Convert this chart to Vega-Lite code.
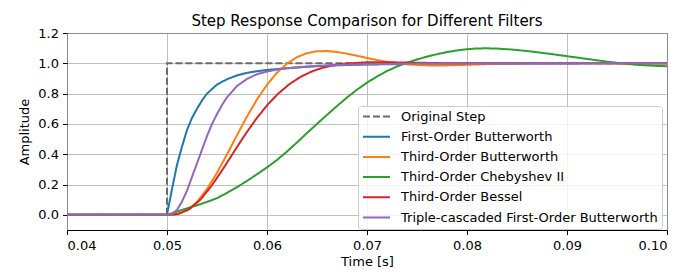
{
  "$schema": "https://vega.github.io/schema/vega-lite/v6.json",
  "width": 600,
  "height": 197,
  "autosize": {"type": "none"},
  "padding": {"left": 67, "top": 33, "right": 31, "bottom": 47},
  "background": "white",
  "title": {"text": "Step Response Comparison for Different Filters", "fontSize": 15, "font": "DejaVu Sans", "fontWeight": "normal", "color": "black", "anchor": "middle", "baseline": "alphabetic", "offset": 7, "dy": 21},
  "config": {
    "view": {"stroke": "black", "strokeWidth": 1},
    "axis": {"domain": false, "gridColor": "#b0b0b0", "gridOpacity": 0.8, "gridWidth": 1, "tickColor": "black", "tickSize": 4.5, "tickWidth": 1, "labelFont": "DejaVu Sans", "labelFontSize": 13, "labelColor": "black", "titleFont": "DejaVu Sans", "titleFontSize": 13, "titleFontWeight": "normal", "titleColor": "black"},
    "legend": {"orient": "none", "legendX": 291, "legendY": 73, "fillColor": "rgba(255,255,255,0.8)", "strokeColor": "#cccccc", "cornerRadius": 3, "padding": 4, "rowPadding": 6.2, "clipHeight": 13, "labelFont": "DejaVu Sans", "labelFontSize": 13, "labelColor": "black", "labelLimit": 400, "labelOffset": 10, "symbolType": "stroke", "symbolStrokeWidth": 2, "symbolSize": 729}
  },
  "data": {"values": [
    {"series": "Original Step", "t": 0.04, "y": 0},
    {"series": "Original Step", "t": 0.05, "y": 0},
    {"series": "Original Step", "t": 0.05, "y": 1},
    {"series": "Original Step", "t": 0.1, "y": 1},

    {"series": "First-Order Butterworth", "t": 0.04, "y": 0},
    {"series": "First-Order Butterworth", "t": 0.05, "y": 0},
    {"series": "First-Order Butterworth", "t": 0.0505, "y": 0.17},
    {"series": "First-Order Butterworth", "t": 0.051, "y": 0.33},
    {"series": "First-Order Butterworth", "t": 0.0515, "y": 0.45},
    {"series": "First-Order Butterworth", "t": 0.052, "y": 0.56},
    {"series": "First-Order Butterworth", "t": 0.0525, "y": 0.64},
    {"series": "First-Order Butterworth", "t": 0.053, "y": 0.70},
    {"series": "First-Order Butterworth", "t": 0.0535, "y": 0.755},
    {"series": "First-Order Butterworth", "t": 0.054, "y": 0.80},
    {"series": "First-Order Butterworth", "t": 0.055, "y": 0.86},
    {"series": "First-Order Butterworth", "t": 0.056, "y": 0.895},
    {"series": "First-Order Butterworth", "t": 0.057, "y": 0.92},
    {"series": "First-Order Butterworth", "t": 0.058, "y": 0.937},
    {"series": "First-Order Butterworth", "t": 0.059, "y": 0.948},
    {"series": "First-Order Butterworth", "t": 0.06, "y": 0.956},
    {"series": "First-Order Butterworth", "t": 0.062, "y": 0.968},
    {"series": "First-Order Butterworth", "t": 0.064, "y": 0.977},
    {"series": "First-Order Butterworth", "t": 0.066, "y": 0.984},
    {"series": "First-Order Butterworth", "t": 0.068, "y": 0.989},
    {"series": "First-Order Butterworth", "t": 0.07, "y": 0.992},
    {"series": "First-Order Butterworth", "t": 0.075, "y": 0.996},
    {"series": "First-Order Butterworth", "t": 0.08, "y": 0.998},
    {"series": "First-Order Butterworth", "t": 0.09, "y": 0.9995},
    {"series": "First-Order Butterworth", "t": 0.1, "y": 1.0},

    {"series": "Third-Order Butterworth", "t": 0.04, "y": 0},
    {"series": "Third-Order Butterworth", "t": 0.05, "y": 0},
    {"series": "Third-Order Butterworth", "t": 0.0505, "y": 0.0007},
    {"series": "Third-Order Butterworth", "t": 0.051, "y": 0.0044},
    {"series": "Third-Order Butterworth", "t": 0.052, "y": 0.0299},
    {"series": "Third-Order Butterworth", "t": 0.053, "y": 0.0851},
    {"series": "Third-Order Butterworth", "t": 0.054, "y": 0.1698},
    {"series": "Third-Order Butterworth", "t": 0.055, "y": 0.2773},
    {"series": "Third-Order Butterworth", "t": 0.056, "y": 0.3991},
    {"series": "Third-Order Butterworth", "t": 0.057, "y": 0.5257},
    {"series": "Third-Order Butterworth", "t": 0.058, "y": 0.6487},
    {"series": "Third-Order Butterworth", "t": 0.059, "y": 0.7613},
    {"series": "Third-Order Butterworth", "t": 0.06, "y": 0.8586},
    {"series": "Third-Order Butterworth", "t": 0.061, "y": 0.938},
    {"series": "Third-Order Butterworth", "t": 0.062, "y": 0.9984},
    {"series": "Third-Order Butterworth", "t": 0.063, "y": 1.0408},
    {"series": "Third-Order Butterworth", "t": 0.064, "y": 1.0669},
    {"series": "Third-Order Butterworth", "t": 0.065, "y": 1.0796},
    {"series": "Third-Order Butterworth", "t": 0.066, "y": 1.081},
    {"series": "Third-Order Butterworth", "t": 0.067, "y": 1.0748},
    {"series": "Third-Order Butterworth", "t": 0.068, "y": 1.0637},
    {"series": "Third-Order Butterworth", "t": 0.069, "y": 1.0499},
    {"series": "Third-Order Butterworth", "t": 0.07, "y": 1.0356},
    {"series": "Third-Order Butterworth", "t": 0.071, "y": 1.0216},
    {"series": "Third-Order Butterworth", "t": 0.072, "y": 1.0097},
    {"series": "Third-Order Butterworth", "t": 0.073, "y": 1.0001},
    {"series": "Third-Order Butterworth", "t": 0.074, "y": 0.993},
    {"series": "Third-Order Butterworth", "t": 0.076, "y": 0.9861},
    {"series": "Third-Order Butterworth", "t": 0.078, "y": 0.9861},
    {"series": "Third-Order Butterworth", "t": 0.08, "y": 0.99},
    {"series": "Third-Order Butterworth", "t": 0.083, "y": 0.9972},
    {"series": "Third-Order Butterworth", "t": 0.086, "y": 1.0015},
    {"series": "Third-Order Butterworth", "t": 0.09, "y": 1.0021},
    {"series": "Third-Order Butterworth", "t": 0.095, "y": 1.0003},
    {"series": "Third-Order Butterworth", "t": 0.1, "y": 1.0},

    {"series": "Third-Order Chebyshev II", "t": 0.04, "y": 0},
    {"series": "Third-Order Chebyshev II", "t": 0.05, "y": 0},
    {"series": "Third-Order Chebyshev II", "t": 0.0505, "y": 0.011},
    {"series": "Third-Order Chebyshev II", "t": 0.051, "y": 0.022},
    {"series": "Third-Order Chebyshev II", "t": 0.052, "y": 0.043},
    {"series": "Third-Order Chebyshev II", "t": 0.053, "y": 0.063},
    {"series": "Third-Order Chebyshev II", "t": 0.054, "y": 0.085},
    {"series": "Third-Order Chebyshev II", "t": 0.055, "y": 0.11},
    {"series": "Third-Order Chebyshev II", "t": 0.056, "y": 0.145},
    {"series": "Third-Order Chebyshev II", "t": 0.057, "y": 0.183},
    {"series": "Third-Order Chebyshev II", "t": 0.058, "y": 0.224},
    {"series": "Third-Order Chebyshev II", "t": 0.059, "y": 0.268},
    {"series": "Third-Order Chebyshev II", "t": 0.06, "y": 0.313},
    {"series": "Third-Order Chebyshev II", "t": 0.061, "y": 0.362},
    {"series": "Third-Order Chebyshev II", "t": 0.062, "y": 0.418},
    {"series": "Third-Order Chebyshev II", "t": 0.063, "y": 0.478},
    {"series": "Third-Order Chebyshev II", "t": 0.064, "y": 0.54},
    {"series": "Third-Order Chebyshev II", "t": 0.065, "y": 0.6},
    {"series": "Third-Order Chebyshev II", "t": 0.066, "y": 0.66},
    {"series": "Third-Order Chebyshev II", "t": 0.067, "y": 0.718},
    {"series": "Third-Order Chebyshev II", "t": 0.068, "y": 0.774},
    {"series": "Third-Order Chebyshev II", "t": 0.069, "y": 0.826},
    {"series": "Third-Order Chebyshev II", "t": 0.07, "y": 0.872},
    {"series": "Third-Order Chebyshev II", "t": 0.071, "y": 0.913},
    {"series": "Third-Order Chebyshev II", "t": 0.072, "y": 0.949},
    {"series": "Third-Order Chebyshev II", "t": 0.073, "y": 0.979},
    {"series": "Third-Order Chebyshev II", "t": 0.074, "y": 1.004},
    {"series": "Third-Order Chebyshev II", "t": 0.075, "y": 1.025},
    {"series": "Third-Order Chebyshev II", "t": 0.076, "y": 1.044},
    {"series": "Third-Order Chebyshev II", "t": 0.077, "y": 1.06},
    {"series": "Third-Order Chebyshev II", "t": 0.078, "y": 1.074},
    {"series": "Third-Order Chebyshev II", "t": 0.079, "y": 1.085},
    {"series": "Third-Order Chebyshev II", "t": 0.08, "y": 1.093},
    {"series": "Third-Order Chebyshev II", "t": 0.081, "y": 1.098},
    {"series": "Third-Order Chebyshev II", "t": 0.082, "y": 1.099},
    {"series": "Third-Order Chebyshev II", "t": 0.083, "y": 1.097},
    {"series": "Third-Order Chebyshev II", "t": 0.084, "y": 1.093},
    {"series": "Third-Order Chebyshev II", "t": 0.085, "y": 1.088},
    {"series": "Third-Order Chebyshev II", "t": 0.086, "y": 1.081},
    {"series": "Third-Order Chebyshev II", "t": 0.087, "y": 1.073},
    {"series": "Third-Order Chebyshev II", "t": 0.088, "y": 1.065},
    {"series": "Third-Order Chebyshev II", "t": 0.089, "y": 1.056},
    {"series": "Third-Order Chebyshev II", "t": 0.09, "y": 1.047},
    {"series": "Third-Order Chebyshev II", "t": 0.091, "y": 1.038},
    {"series": "Third-Order Chebyshev II", "t": 0.092, "y": 1.029},
    {"series": "Third-Order Chebyshev II", "t": 0.093, "y": 1.02},
    {"series": "Third-Order Chebyshev II", "t": 0.094, "y": 1.011},
    {"series": "Third-Order Chebyshev II", "t": 0.095, "y": 1.003},
    {"series": "Third-Order Chebyshev II", "t": 0.096, "y": 0.996},
    {"series": "Third-Order Chebyshev II", "t": 0.097, "y": 0.99},
    {"series": "Third-Order Chebyshev II", "t": 0.098, "y": 0.986},
    {"series": "Third-Order Chebyshev II", "t": 0.099, "y": 0.983},
    {"series": "Third-Order Chebyshev II", "t": 0.1, "y": 0.981},

    {"series": "Third-Order Bessel", "t": 0.04, "y": 0},
    {"series": "Third-Order Bessel", "t": 0.05, "y": 0},
    {"series": "Third-Order Bessel", "t": 0.0505, "y": 0.0007},
    {"series": "Third-Order Bessel", "t": 0.051114, "y": 0.0058},
    {"series": "Third-Order Bessel", "t": 0.052228, "y": 0.037},
    {"series": "Third-Order Bessel", "t": 0.053342, "y": 0.1005},
    {"series": "Third-Order Bessel", "t": 0.054456, "y": 0.1918},
    {"series": "Third-Order Bessel", "t": 0.05557, "y": 0.2996},
    {"series": "Third-Order Bessel", "t": 0.056685, "y": 0.415},
    {"series": "Third-Order Bessel", "t": 0.057799, "y": 0.5283},
    {"series": "Third-Order Bessel", "t": 0.058913, "y": 0.6327},
    {"series": "Third-Order Bessel", "t": 0.060027, "y": 0.7245},
    {"series": "Third-Order Bessel", "t": 0.061141, "y": 0.8014},
    {"series": "Third-Order Bessel", "t": 0.062255, "y": 0.8631},
    {"series": "Third-Order Bessel", "t": 0.063369, "y": 0.911},
    {"series": "Third-Order Bessel", "t": 0.064483, "y": 0.9463},
    {"series": "Third-Order Bessel", "t": 0.065597, "y": 0.9715},
    {"series": "Third-Order Bessel", "t": 0.066711, "y": 0.9882},
    {"series": "Third-Order Bessel", "t": 0.067825, "y": 0.9984},
    {"series": "Third-Order Bessel", "t": 0.070054, "y": 1.0069},
    {"series": "Third-Order Bessel", "t": 0.072282, "y": 1.0069},
    {"series": "Third-Order Bessel", "t": 0.07451, "y": 1.0044},
    {"series": "Third-Order Bessel", "t": 0.077852, "y": 1.001},
    {"series": "Third-Order Bessel", "t": 0.085, "y": 1.0},
    {"series": "Third-Order Bessel", "t": 0.1, "y": 1.0},

    {"series": "Triple-cascaded First-Order Butterworth", "t": 0.04, "y": 0},
    {"series": "Triple-cascaded First-Order Butterworth", "t": 0.05, "y": 0},
    {"series": "Triple-cascaded First-Order Butterworth", "t": 0.0505, "y": 0.006},
    {"series": "Triple-cascaded First-Order Butterworth", "t": 0.051, "y": 0.033},
    {"series": "Triple-cascaded First-Order Butterworth", "t": 0.0515, "y": 0.087},
    {"series": "Triple-cascaded First-Order Butterworth", "t": 0.052, "y": 0.16},
    {"series": "Triple-cascaded First-Order Butterworth", "t": 0.0525, "y": 0.25},
    {"series": "Triple-cascaded First-Order Butterworth", "t": 0.053, "y": 0.34},
    {"series": "Triple-cascaded First-Order Butterworth", "t": 0.0535, "y": 0.43},
    {"series": "Triple-cascaded First-Order Butterworth", "t": 0.054, "y": 0.52},
    {"series": "Triple-cascaded First-Order Butterworth", "t": 0.0545, "y": 0.6},
    {"series": "Triple-cascaded First-Order Butterworth", "t": 0.055, "y": 0.665},
    {"series": "Triple-cascaded First-Order Butterworth", "t": 0.0555, "y": 0.725},
    {"series": "Triple-cascaded First-Order Butterworth", "t": 0.056, "y": 0.775},
    {"series": "Triple-cascaded First-Order Butterworth", "t": 0.057, "y": 0.85},
    {"series": "Triple-cascaded First-Order Butterworth", "t": 0.058, "y": 0.897},
    {"series": "Triple-cascaded First-Order Butterworth", "t": 0.059, "y": 0.928},
    {"series": "Triple-cascaded First-Order Butterworth", "t": 0.06, "y": 0.946},
    {"series": "Triple-cascaded First-Order Butterworth", "t": 0.061, "y": 0.958},
    {"series": "Triple-cascaded First-Order Butterworth", "t": 0.062, "y": 0.967},
    {"series": "Triple-cascaded First-Order Butterworth", "t": 0.064, "y": 0.979},
    {"series": "Triple-cascaded First-Order Butterworth", "t": 0.066, "y": 0.986},
    {"series": "Triple-cascaded First-Order Butterworth", "t": 0.068, "y": 0.991},
    {"series": "Triple-cascaded First-Order Butterworth", "t": 0.07, "y": 0.994},
    {"series": "Triple-cascaded First-Order Butterworth", "t": 0.075, "y": 0.998},
    {"series": "Triple-cascaded First-Order Butterworth", "t": 0.08, "y": 0.999},
    {"series": "Triple-cascaded First-Order Butterworth", "t": 0.09, "y": 1.0},
    {"series": "Triple-cascaded First-Order Butterworth", "t": 0.1, "y": 1.0}
  ]},
  "mark": {"type": "line", "strokeWidth": 2},
  "encoding": {
    "x": {"field": "t", "type": "quantitative", "scale": {"domain": [0.04, 0.1], "nice": false, "zero": false},
      "axis": {"title": "Time [s]", "values": [0.04, 0.05, 0.06, 0.07, 0.08, 0.09, 0.1], "format": ".2f", "labelPadding": 5, "titlePadding": 3}},
    "y": {"field": "y", "type": "quantitative", "scale": {"domain": [-0.1, 1.2], "nice": false, "zero": false},
      "axis": {"title": "Amplitude", "values": [0, 0.2, 0.4, 0.6, 0.8, 1.0, 1.2], "format": ".1f", "labelPadding": 4, "titlePadding": 6}},
    "color": {"field": "series", "type": "nominal",
      "scale": {"domain": ["Original Step", "First-Order Butterworth", "Third-Order Butterworth", "Third-Order Chebyshev II", "Third-Order Bessel", "Triple-cascaded First-Order Butterworth"],
        "range": ["#6b6b6b", "#1f77b4", "#ff7f0e", "#2ca02c", "#d62728", "#9467bd"]},
      "legend": {"title": null}},
    "strokeDash": {"field": "series", "type": "nominal",
      "scale": {"domain": ["Original Step", "First-Order Butterworth", "Third-Order Butterworth", "Third-Order Chebyshev II", "Third-Order Bessel", "Triple-cascaded First-Order Butterworth"],
        "range": [[7, 3], [1, 0], [1, 0], [1, 0], [1, 0], [1, 0]]},
      "legend": {"title": null}}
  }
}
